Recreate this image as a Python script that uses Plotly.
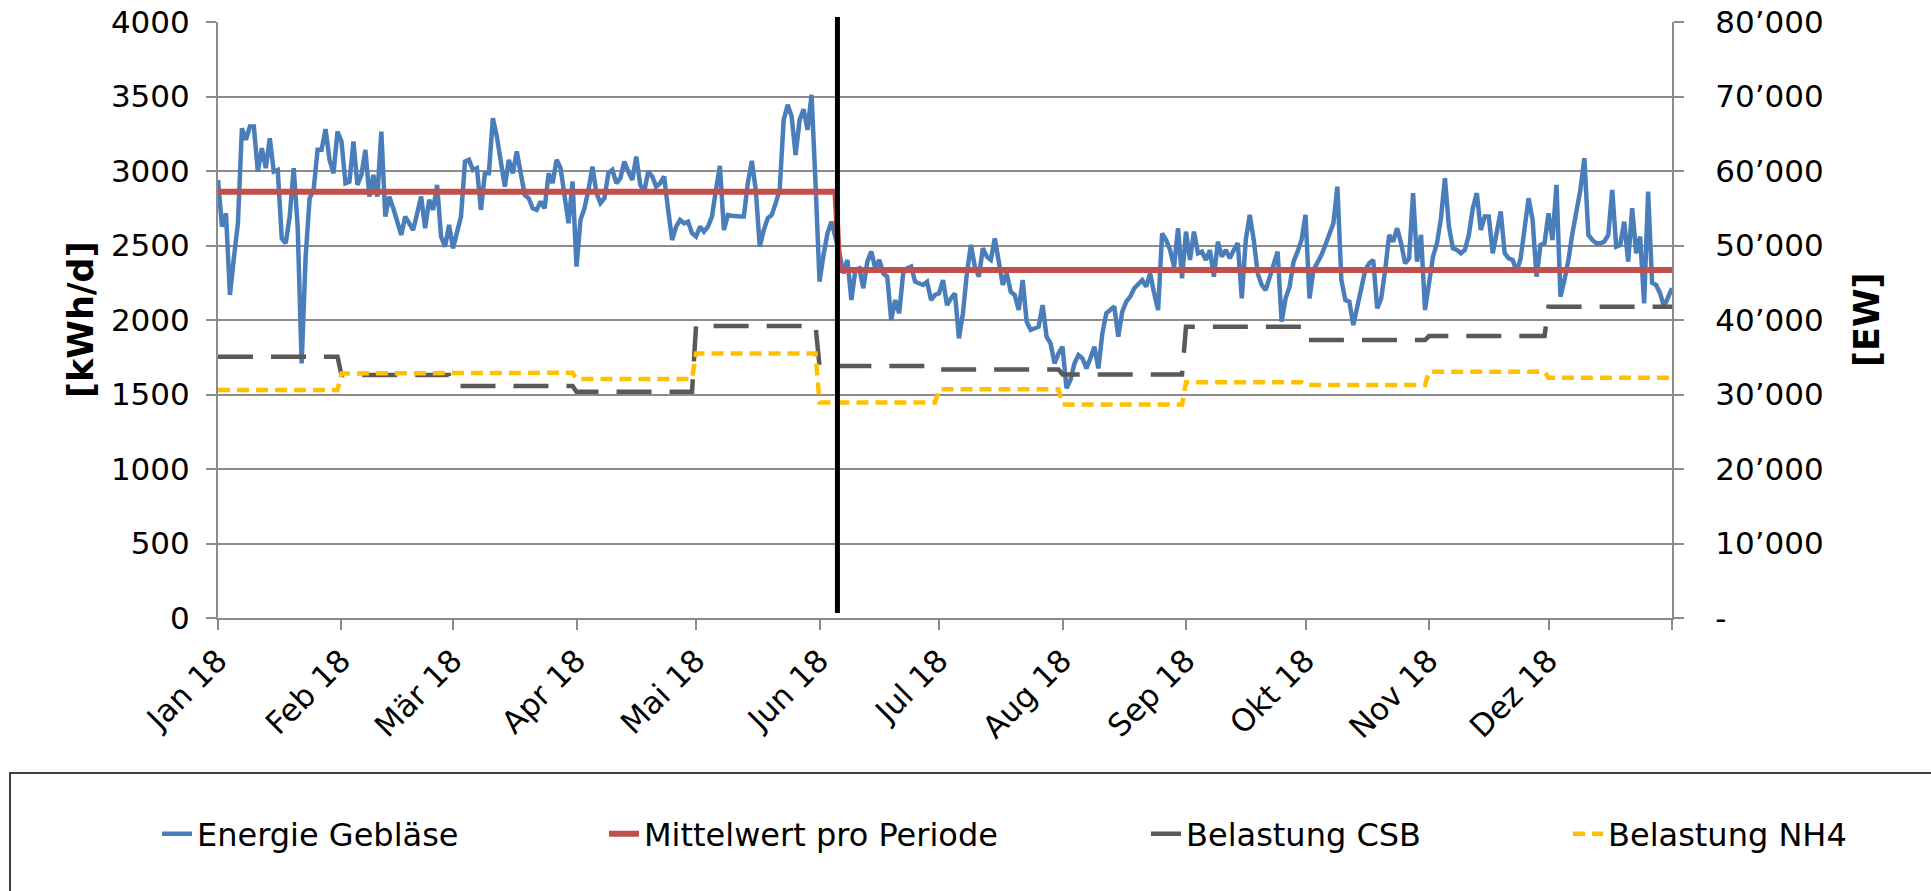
import pandas as pd
import plotly.graph_objects as go

# ---------------- data ----------------
month_labels = ["Jan 18", "Feb 18", "Mär 18", "Apr 18", "Mai 18", "Jun 18",
                "Jul 18", "Aug 18", "Sep 18", "Okt 18", "Nov 18", "Dez 18"]

# daily blower energy [kWh/d], 2018-01-01 ... 2019-01-01
energy_kwh = [
    2940, 2627, 2716, 2168, 2420, 2649, 3287, 3209, 3298, 3298,
    2996, 3153, 3019, 3220, 2996, 3007, 2548, 2515, 2694, 3019,
    2627, 1709, 2426, 2817, 2873, 3142, 3142, 3281, 3075, 2985,
    3265, 3198, 2918, 2929, 3198, 2907, 2974, 3142, 2828, 2974,
    2828, 3265, 2694, 2828, 2750, 2672, 2571, 2694, 2650, 2604,
    2716, 2828, 2616, 2806, 2739, 2907, 2560, 2492, 2638, 2481,
    2590, 2694, 3063, 3075, 3007, 3019, 2739, 2985, 2985, 3354,
    3231, 3052, 2895, 3075, 2985, 3131, 2990, 2839, 2817, 2750,
    2739, 2795, 2750, 2985, 2918, 3075, 3019, 2806, 2649, 2929,
    2358, 2672, 2750, 2873, 3030, 2851, 2784, 2817, 2985, 3007,
    2918, 2951, 3063, 2996, 2940, 3097, 2907, 2862, 2996, 2963,
    2895, 2918, 2963, 2739, 2537, 2627, 2672, 2649, 2660, 2582,
    2560, 2627, 2593, 2627, 2694, 2873, 3034, 2604, 2705, 2700,
    2694, 2694, 2694, 2918, 3068, 2873, 2492, 2604, 2683, 2705,
    2784, 2873, 3343, 3444, 3366, 3108, 3343, 3415, 3276, 3511,
    2918, 2257, 2436, 2582, 2660, 2560, 2450, 2313, 2403, 2134,
    2336, 2347, 2213, 2392, 2459, 2347, 2403, 2313, 2291, 2000,
    2134, 2045, 2313, 2347, 2358, 2257, 2246, 2235, 2257, 2134,
    2168, 2179, 2268, 2100, 2145, 2179, 1877, 2045, 2313, 2504,
    2358, 2291, 2481, 2425, 2403, 2548, 2392, 2235, 2313, 2190,
    2168, 2067, 2268, 1989, 1933, 1944, 1955, 2100, 1888, 1843,
    1709, 1776, 1821, 1541, 1597, 1709, 1765, 1743, 1675, 1743,
    1821, 1675, 1910, 2045, 2070, 2090, 1888, 2056, 2123, 2157,
    2213, 2240, 2268, 2224, 2313, 2179, 2067, 2582, 2537, 2470,
    2358, 2616, 2280, 2593, 2403, 2593, 2448, 2459, 2403, 2470,
    2291, 2526, 2425, 2470, 2414, 2470, 2515, 2145, 2537, 2705,
    2537, 2313, 2235, 2201, 2291, 2381, 2459, 1989, 2145, 2224,
    2392, 2459, 2537, 2705, 2145, 2336, 2381, 2436, 2504, 2571,
    2649, 2895, 2268, 2134, 2123, 1966, 2090, 2246, 2336, 2381,
    2403, 2078, 2145, 2336, 2571, 2526, 2616, 2515, 2381, 2414,
    2851, 2392, 2571, 2067, 2235, 2425, 2515, 2683, 2951, 2627,
    2481, 2470, 2448, 2470, 2571, 2750, 2851, 2604, 2694, 2694,
    2448, 2582, 2728, 2448, 2414, 2403, 2325, 2414, 2604, 2817,
    2672, 2291, 2504, 2515, 2716, 2537, 2907, 2157, 2268, 2403,
    2582, 2716, 2873, 3086, 2571, 2537, 2515, 2515, 2526, 2571,
    2873, 2492, 2504, 2660, 2392, 2750, 2448, 2560, 2112, 2862,
    2250, 2235, 2180, 2090, 2150, 2213,
]

# monthly loads [EW] (Jan ... Dez)
csb_ew_monthly = [35070, 32610, 31130, 30370, 39200, 33820,
                  33370, 32700, 39100, 37310, 37840, 41790]
nh4_ew_monthly = [30600, 32830, 32920, 32070, 35500, 28930,
                  30720, 28670, 31650, 31260, 33060, 32250]

# mean energy per period [kWh/d]
mean_kwh = [2860, 2335]
period_starts = ["2018-01-01", "2018-06-06"]
period_ends = ["2018-06-05", "2019-01-01"]

ew_tick_vals = [0, 10000, 20000, 30000, 40000, 50000, 60000, 70000, 80000]
ew_tick_text = ["-", "10’000", "20’000", "30’000", "40’000",
                "50’000", "60’000", "70’000", "80’000"]
kwh_tick_vals = [0, 500, 1000, 1500, 2000, 2500, 3000, 3500, 4000]

# ---------------- derived series ----------------
dates = pd.date_range("2018-01-01", "2019-01-01", freq="D")
assert len(dates) == len(energy_kwh)
month_idx = [d.month - 1 if d.year == 2018 else 11 for d in dates]
csb_daily = [csb_ew_monthly[i] for i in month_idx]
nh4_daily = [nh4_ew_monthly[i] for i in month_idx]
end1 = pd.Timestamp(period_ends[0])
mean_daily = [mean_kwh[0] if d <= end1 else mean_kwh[1] for d in dates]
boundary = end1 + (pd.Timestamp(period_starts[1]) - end1) / 2

month_ticks = list(pd.date_range("2018-01-01", "2019-01-01", freq="MS"))
month_text = month_labels + [""]

FONT = "DejaVu Sans"
GRID = "#8c8c8c"

fig = go.Figure()
fig.add_trace(go.Scatter(x=dates, y=energy_kwh, name="Energie Gebläse", mode="lines",
                         line=dict(color="#4a7ebb", width=4.5), yaxis="y", legend="legend"))
fig.add_trace(go.Scatter(x=dates, y=mean_daily, name="Mittelwert pro Periode", mode="lines",
                         line=dict(color="#c0504d", width=6), yaxis="y", legend="legend2"))
fig.add_trace(go.Scatter(x=dates, y=csb_daily, name="Belastung CSB", mode="lines",
                         line=dict(color="#595959", width=4.5, dash="35px,18px"),
                         yaxis="y2", legend="legend3"))
fig.add_trace(go.Scatter(x=dates, y=nh4_daily, name="Belastung NH4", mode="lines",
                         line=dict(color="#ffc000", width=4.5, dash="12px,7px"),
                         yaxis="y2", legend="legend4"))

W, H = 1931, 891
L, R, T, B = 218, 259, 22, 273
PW, PH = W - L - R, H - T - B


def leg(px):
    return dict(xref="container", yref="container", x=px / W, y=1 - 834 / H,
                xanchor="left", yanchor="middle", bgcolor="rgba(0,0,0,0)",
                borderwidth=0, font=dict(family=FONT, size=32, color="black"))


title_font = dict(family=FONT, size=35, color="black", weight="bold")

fig.update_layout(
    template="none",
    width=W, height=H,
    margin=dict(l=L, r=R, t=T, b=B, autoexpand=False),
    paper_bgcolor="white", plot_bgcolor="white",
    font=dict(family=FONT, size=31, color="black"),
    showlegend=True,
    legend=leg(157), legend2=leg(604), legend3=leg(1146), legend4=leg(1568),
    xaxis=dict(type="date", range=[dates[0], dates[-1]],
               tickvals=month_ticks, ticktext=month_text, tickangle=-45,
               tickfont=dict(size=31), ticks="outside", ticklen=10, tickwidth=2,
               tickcolor=GRID, showline=True, linecolor=GRID, linewidth=2,
               showgrid=False, zeroline=False, automargin=False),
    yaxis=dict(range=[0, 4000], tickvals=kwh_tick_vals, tickfont=dict(size=31),
               ticks="outside", ticklen=10, tickwidth=2, tickcolor=GRID,
               ticklabelstandoff=10,
               showgrid=True, gridcolor=GRID, gridwidth=2,
               showline=True, linecolor=GRID, linewidth=2, zeroline=False,
               automargin=False),
    yaxis2=dict(range=[0, 80000], overlaying="y", side="right",
                tickvals=ew_tick_vals, ticktext=ew_tick_text, tickfont=dict(size=31),
                ticks="outside", ticklen=10, tickwidth=2, tickcolor=GRID,
                ticklabelstandoff=25,
                showgrid=False, showline=True, linecolor=GRID, linewidth=2,
                zeroline=False, automargin=False),
    annotations=[
        dict(text="[kWh/d]", xref="paper", yref="paper", x=(81 - L) / PW, y=0.5,
             textangle=-90, showarrow=False, font=title_font,
             xanchor="center", yanchor="middle"),
        dict(text="[EW]", xref="paper", yref="paper", x=(1867 - L) / PW, y=0.5,
             textangle=-90, showarrow=False, font=title_font,
             xanchor="center", yanchor="middle"),
    ],
    shapes=[
        dict(type="line", xref="x", yref="paper", x0=boundary, x1=boundary,
             y0=5 / PH, y1=1 + 5 / PH, line=dict(color="black", width=5)),
        dict(type="rect", xref="paper", yref="paper", x0=(10 - L) / PW, x1=1.3,
             y0=-0.7, y1=-(773 - (H - B)) / PH, line=dict(color="#404040", width=2)),
    ],
)

fig.write_html("out.html", config={"displayModeBar": False},
               post_script="document.body.style.margin='0';")
